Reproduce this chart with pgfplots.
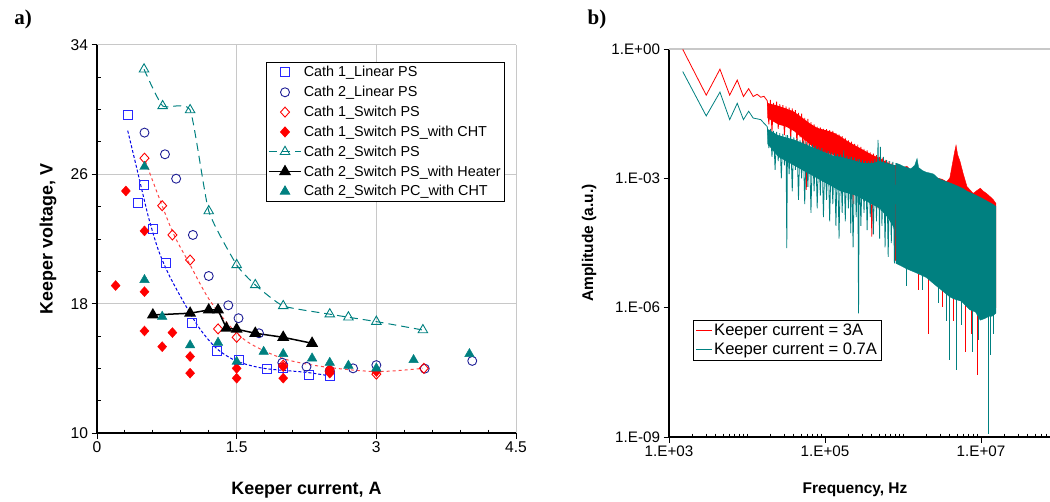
\documentclass[border=0pt]{standalone}
\usepackage{pgfplots}
\pgfplotsset{compat=1.18}
\usepackage{fontspec}
\setmainfont{Liberation Sans}
\newfontfamily\timesfont{Liberation Serif}
\definecolor{bsq}{RGB}{40,40,255}
\definecolor{bline}{RGB}{0,0,230}
\definecolor{navy}{RGB}{30,30,150}
\definecolor{rline}{RGB}{255,70,70}
\definecolor{tealc}{RGB}{0,128,128}
\definecolor{gridc}{RGB}{200,200,200}
\begin{document}
\begin{tikzpicture}
\path[use as bounding box] (0pt,0pt) rectangle (1050pt,-502pt);
\node[font=\timesfont\bfseries\fontsize{21}{24}\selectfont] at (23pt,-19pt) {a)};
\node[font=\timesfont\bfseries\fontsize{21}{24}\selectfont] at (597pt,-19pt) {b)};
% ---------------- left panel
\begin{axis}[
 at={(97pt,-433pt)}, anchor=south west,
 scale only axis, width=419pt, height=388pt,
 xmin=0,xmax=4.5,ymin=10,ymax=34,
 xtick={0,1.5,3,4.5}, xticklabels={0,1.5,3,4.5},
 ytick={10,18,26,34}, yticklabels={10,18,26,34},
 minor x tick num=4, minor y tick num=3,
 axis x line*=bottom, axis y line*=left,
 axis line style={-, line width=1.2pt, black},
 grid=major, major grid style={gridc, line width=1pt},
 tick align=outside, major tick length=5.5pt, minor tick length=-3.5pt,
 tick style={black, line width=1pt},
 /pgf/number format/assume math mode=true,
 ticklabel style={font=\fontsize{15.6}{18}\selectfont},
 xlabel={Keeper current, A}, ylabel={Keeper voltage, V},
 label style={font=\bfseries\fontsize{17.9}{20}\selectfont},
 xlabel style={at={(axis description cs:0.5,-0.147)}, anchor=center},
 ylabel style={at={(axis description cs:-0.117,0.5)}, anchor=center},
 legend cell align=left,
 legend style={at={(0.403,0.956)}, anchor=north west, draw=black, line width=0.8pt, fill=white,
   font=\fontsize{14.4}{17}\selectfont, row sep=3.9pt, inner sep=2pt},
 legend image code/.code={\draw[mark repeat=2,mark phase=2,#1] plot coordinates {(0pt,0pt) (16pt,0pt) (32pt,0pt)};},
]
\addplot[forget plot, bline, densely dashed, line width=1pt, smooth] coordinates {
(0.33,28.7) (0.43,26.3) (0.5,24.6) (0.56,23.2) (0.66,21.3) (0.78,19.7) (0.96,17.8) (1.11,16.4) (1.29,15.2) (1.5,14.45) (1.79,14.0) (2.25,13.75) (2.53,13.5)};
\addplot[forget plot, rline, dashed, line width=1pt, smooth] coordinates {
(0.52,26.8) (0.8,22.6) (1.0,20.4) (1.2,18.3) (1.43,16.6) (1.64,15.55) (2.0,14.6) (2.43,14.1) (3.0,13.8) (3.5,14.0)};
\addplot[only marks, color=bsq, mark=square, mark size=4.5pt, mark options={line width=0.9pt}] coordinates {
(0.33,29.65) (0.50,25.34) (0.44,24.25) (0.60,22.6) (0.74,20.5) (1.02,16.8) (1.29,15.1) (1.52,14.5) (1.82,13.96) (2.0,14.0) (2.28,13.6) (2.5,13.53)};
\addlegendentry{Cath 1\_Linear PS}
\addplot[only marks, color=navy, mark=o, mark size=4.5pt, mark options={line width=0.9pt}] coordinates {
(0.51,28.58) (0.73,27.24) (0.85,25.73) (1.03,22.25) (1.2,19.71) (1.41,17.9) (1.52,17.1) (1.74,16.17) (1.99,14.35) (2.25,14.1) (2.5,13.86) (2.75,14.0) (3.0,14.2) (3.52,13.98) (4.03,14.46)};
\addlegendentry{Cath 2\_Linear PS}
\addplot[only marks, color=red, mark=diamond, mark size=5pt, mark options={line width=0.9pt, xscale=1.2}] coordinates {
(0.51,27.0) (0.70,24.06) (0.81,22.25) (1.0,20.7) (1.3,16.44) (1.5,15.92) (2.0,14.2) (2.5,13.8) (3.0,13.64) (3.51,14.0)};
\addlegendentry{Cath 1\_Switch PS}
\addplot[only marks, color=red, mark=diamond*, mark size=5pt, mark options={fill=red, xscale=1.2}] coordinates {
(0.31,24.97) (0.51,22.5) (0.2,19.12) (0.51,18.74) (0.51,16.31) (0.70,15.34) (0.81,16.21) (1.0,14.73) (1.0,13.7) (1.5,14.0) (1.5,13.39) (2.0,14.1) (2.0,13.39) (2.5,13.95) (2.5,13.7) (3.0,13.8)};
\addlegendentry{Cath 1\_Switch PS\_with CHT}
\addplot[tealc, dash pattern=on 8pt off 5pt, line width=1pt, smooth, tension=0.3, mark=triangle, mark size=5.5pt, mark options={solid, line width=0.9pt}] coordinates {
(0.505,32.5) (0.705,30.23) (1.0,29.98) (1.2,23.73) (1.5,20.4) (1.7,19.16) (2.0,17.86) (2.5,17.35) (2.7,17.16) (3.0,16.89) (3.5,16.37)};
\addlegendentry{Cath 2\_Switch PS}
\addplot[black, line width=1.5pt, mark=triangle*, mark size=5.5pt, mark options={solid}] coordinates {
(0.6,17.3) (1.0,17.41) (1.2,17.61) (1.3,17.61) (1.39,16.48) (1.5,16.42) (1.7,16.17) (2.0,15.92) (2.31,15.55)};
\addlegendentry{Cath 2\_Switch PS\_with Heater}
\addplot[only marks, color=tealc, mark=triangle*, mark size=5.5pt, mark options={fill=tealc}] coordinates {
(0.51,26.47) (0.51,19.47) (0.70,17.2) (1.0,15.43) (1.3,15.59) (1.5,14.41) (1.79,15.03) (2.0,14.89) (2.31,14.62) (2.5,14.35) (2.7,14.17) (3.0,14.0) (3.4,14.52) (4.0,14.89)};
\addlegendentry{Cath 2\_Switch PC\_with CHT}
\end{axis}
% ---------------- right panel
\begin{axis}[
 at={(669pt,-437pt)}, anchor=south west,
 scale only axis, width=390pt, height=388pt,
 xmode=log, ymode=log, xmin=1e3, xmax=1e8, ymin=1e-9, ymax=1,
 xtick={1e3,1e5,1e7}, xticklabels={1.E+03,1.E+05,1.E+07},
 ytick={1e-9,1e-6,1e-3,1}, yticklabels={1.E-09,1.E-06,1.E-03,1.E+00},
 minor xtick={2e3,3e3,4e3,5e3,6e3,7e3,8e3,9e3,1e4,2e4,3e4,4e4,5e4,6e4,7e4,8e4,9e4,2e5,3e5,4e5,5e5,6e5,7e5,8e5,9e5,1e6,2e6,3e6,4e6,5e6,6e6,7e6,8e6,9e6,2e7,3e7,4e7,5e7,6e7,7e7,8e7,9e7},
 minor y tick num=0,
 axis x line*=bottom, axis y line*=left,
 axis line style={-, line width=1.2pt, black},
 extra y ticks={1}, extra y tick labels={},
 extra y tick style={ymajorgrids=true, major tick length=0pt, major grid style={gridc, line width=1.5pt}},
 tick align=outside, major tick length=5.5pt, minor tick length=-3.5pt,
 tick style={black, line width=1pt},
 /pgf/number format/assume math mode=true,
 ticklabel style={font=\fontsize{15.2}{18}\selectfont},
 xlabel={Frequency, Hz}, ylabel={Amplitude (a.u.)},
 label style={font=\bfseries\fontsize{15.5}{18}\selectfont},
 xlabel style={at={(axis description cs:0.477,-0.137)}, anchor=center},
 ylabel style={at={(axis description cs:-0.205,0.5)}, anchor=center},
 unbounded coords=jump,
 legend cell align=left,
 legend style={at={(0.0615,0.302)}, anchor=north west, draw=black, line width=0.8pt, fill=white,
   font=\fontsize{16.6}{19}\selectfont, row sep=2pt, inner sep=2pt},
 legend image code/.code={\draw[#1] (0pt,0pt) -- (16pt,0pt);},
]
% red, keeper current 3A : dense band of the mid range
\addplot[forget plot, fill=red, draw=none] coordinates {
(1.820e4,5.62e-2) (2.512e4,4.79e-2) (3.162e4,4.17e-2) (3.981e4,3.55e-2) (5.012e4,2.63e-2) (6.310e4,1.91e-2) (7.943e4,1.48e-2) (1.0e5,1.32e-2) (1.259e5,1.17e-2) (1.585e5,9.33e-3)
(1.995e5,7.08e-3) (2.512e5,5.62e-3) (3.162e5,4.47e-3) (3.981e5,3.55e-3) (5.012e5,2.95e-3) (6.310e5,2.34e-3) (7.943e5,1.91e-3)
(7.943e5,6.31e-4) (6.310e5,7.08e-4) (5.012e5,8.91e-4) (3.981e5,1.12e-3) (3.162e5,1.41e-3) (2.512e5,1.78e-3) (1.995e5,2.24e-3) (1.585e5,2.82e-3) (1.259e5,3.55e-3) (1.0e5,3.98e-3)
(7.943e4,4.47e-3) (6.310e4,6.31e-3) (5.012e4,8.91e-3) (3.981e4,1.26e-2) (3.162e4,1.58e-2) (2.512e4,1.78e-2) (1.820e4,2.51e-2)} -- cycle;
\addplot[red, line width=0.8pt] coordinates {
(1.5e3,0.98) (3.0e3,8.5e-2) (4.5e3,3.4e-1) (6.0e3,8.5e-2) (7.5e3,1.9e-1) (9.0e3,7.9e-2) (1.05e4,1.2e-1) (1.2e4,7.9e-2) (1.35e4,8.9e-2) (1.5e4,7.6e-2) (1.65e4,8.0e-2)
(1.820e4,6.31e-2) (1.905e4,1.78e-2) (1.995e4,6.61e-2) (2.089e4,1.20e-2) (2.188e4,5.62e-2) (2.291e4,2.51e-2) (2.399e4,6.03e-2) (2.512e4,1.41e-2) (2.630e4,5.25e-2) (2.754e4,2.00e-2)
(2.884e4,5.01e-2) (3.020e4,1.00e-2) (3.162e4,4.68e-2) (3.311e4,1.58e-2) (3.467e4,4.37e-2) (3.631e4,7.94e-3) (3.802e4,4.17e-2) (3.981e4,1.26e-2) (4.169e4,3.80e-2) (4.365e4,6.31e-3)
(4.571e4,3.31e-2) (4.786e4,8.91e-3) (5.012e4,3.16e-2) (5.248e4,2.95e-3) (5.495e4,2.51e-2) (5.754e4,5.37e-4) (6.026e4,2.40e-2) (6.310e4,3.98e-3) (6.607e4,2.00e-2) (6.918e4,2.51e-3)
(7.244e4,1.78e-2) (7.586e4,5.01e-3) (7.943e4,1.58e-2) (8.318e4,2.00e-3) (8.710e4,1.51e-2) (9.120e4,3.16e-3) (9.550e4,1.41e-2) (1.000e5,1.26e-3) (1.047e5,1.38e-2) (1.096e5,2.51e-3)
(1.148e5,1.32e-2) (1.202e5,1.00e-3) (1.259e5,1.26e-2) (1.318e5,2.00e-3) (1.380e5,1.12e-2) (1.445e5,7.94e-4) (1.514e5,1.05e-2) (1.585e5,1.58e-3) (1.660e5,9.55e-3) (1.738e5,5.01e-4)
(1.820e5,8.71e-3) (1.905e5,1.26e-3) (1.995e5,7.59e-3) (2.089e5,6.31e-4) (2.188e5,7.08e-3) (2.291e5,2.51e-4) (2.399e5,6.31e-3) (2.512e5,1.00e-3) (2.630e5,6.03e-3) (2.754e5,3.98e-4)
(2.884e5,5.37e-3) (3.020e5,7.94e-4) (3.162e5,4.79e-3) (3.311e5,3.16e-4) (3.467e5,4.47e-3) (3.631e5,6.31e-4) (3.802e5,3.98e-3) (3.981e5,4.47e-5) (4.169e5,3.72e-3) (4.365e5,3.98e-4)
(4.571e5,3.47e-3) (4.786e5,2.00e-4) (5.012e5,3.16e-3) (5.248e5,5.01e-4) (5.495e5,3.02e-3) (5.754e5,1.58e-4) (6.026e5,2.69e-3) (6.310e5,3.16e-4) (6.607e5,2.51e-3) (6.918e5,1.00e-4)
(7.244e5,2.29e-3) (7.586e5,2.51e-4) (7.943e5,2.00e-3)};
\addlegendentry{Keeper current = 3A}
\addplot[forget plot, fill=red, draw=red, line width=0.4pt] coordinates {
(7.943e5,2.00e-3) (9.120e5,1.86e-3) (1.0e6,1.74e-3) (1.122e6,1.91e-3) (1.259e6,1.51e-3) (1.514e6,1.41e-3) (1.778e6,1.32e-3) (1.995e6,1.17e-3) (2.455e6,1.10e-3) (2.818e6,1.00e-3)
(3.162e6,9.55e-4) (3.631e6,8.32e-4) (3.981e6,1.02e-3) (4.266e6,2.00e-3) (4.571e6,3.98e-3) (4.786e6,5.89e-3) (5.012e6,3.55e-3) (5.370e6,2.51e-3) (5.888e6,1.32e-3) (6.607e6,6.46e-4)
(7.244e6,5.37e-4) (7.943e6,4.47e-4) (8.913e6,5.25e-4) (9.772e6,5.89e-4) (1.072e7,5.01e-4) (1.175e7,4.47e-4) (1.318e7,3.72e-4) (1.445e7,3.16e-4) (1.549e7,2.63e-4)
(1.549e7,1.0e-6) (1.318e7,7.94e-7) (1.122e7,7.08e-7) (9.772e6,6.31e-7) (7.943e6,1.0e-6) (6.607e6,1.26e-6) (5.012e6,1.78e-6) (3.981e6,2.24e-6) (3.162e6,3.16e-6) (2.512e6,4.47e-6)
(1.995e6,6.31e-6) (1.514e6,7.94e-6) (1.122e6,1.0e-5) (7.943e5,1.26e-5)} -- cycle;
\addplot[forget plot, red, line width=0.8pt] coordinates {
(1.585e6,6e-6) (1.585e6,2.51e-6) (1.585e6,nan)
(2.138e6,5e-6) (2.138e6,2.51e-7) (2.138e6,nan)
(3.162e6,3e-6) (3.162e6,1.05e-6) (3.162e6,nan)
(4.467e6,2e-6) (4.467e6,5.01e-7) (4.467e6,nan)
(6.310e6,1.2e-6) (6.310e6,9.55e-8) (6.310e6,nan)
(7.586e6,1e-6) (7.586e6,2.51e-7) (7.586e6,nan)
(8.913e6,8e-7) (8.913e6,2.75e-8) (8.913e6,nan)
(1.259e7,8e-7) (1.259e7,3.16e-7)};
% teal, keeper current 0.7A : dense band of the mid range
\addplot[forget plot, fill=tealc, draw=none] coordinates {
(1.820e4,1.41e-2) (2.512e4,1.0e-2) (3.162e4,8.91e-3) (3.981e4,7.94e-3) (5.012e4,6.76e-3) (6.310e4,5.62e-3) (7.943e4,4.79e-3) (1.0e5,3.98e-3) (1.259e5,3.39e-3) (1.585e5,3.16e-3)
(1.995e5,2.82e-3) (2.512e5,2.51e-3) (3.162e5,2.24e-3) (3.981e5,2.24e-3) (5.012e5,2.51e-3) (6.310e5,2.24e-3) (7.943e5,2.00e-3)
(7.943e5,6.31e-5) (6.310e5,1.26e-4) (5.012e5,2.00e-4) (3.981e5,2.51e-4) (3.162e5,3.16e-4) (2.512e5,3.98e-4) (1.995e5,4.47e-4) (1.585e5,5.01e-4) (1.259e5,6.31e-4) (1.0e5,7.94e-4)
(7.943e4,1.0e-3) (6.310e4,1.26e-3) (5.012e4,1.58e-3) (3.981e4,2.00e-3) (3.162e4,2.51e-3) (2.512e4,3.16e-3) (1.820e4,6.31e-3)} -- cycle;
\addplot[tealc, line width=0.8pt] coordinates {
(1.5e3,3.0e-1) (3.0e3,2.8e-2) (4.5e3,1.0e-1) (6.0e3,2.3e-2) (7.5e3,5.5e-2) (9.0e3,2.3e-2) (1.05e4,3.6e-2) (1.2e4,2.5e-2) (1.35e4,2.4e-2) (1.5e4,2.3e-2) (1.65e4,1.9e-2)
(1.820e4,1.58e-2) (1.905e4,5.01e-3) (1.995e4,1.41e-2) (2.089e4,3.16e-3) (2.188e4,1.26e-2) (2.291e4,1.58e-3) (2.399e4,1.20e-2) (2.512e4,2.51e-3) (2.630e4,1.12e-2) (2.754e4,1.00e-3)
(2.884e4,1.07e-2) (3.020e4,2.00e-3) (3.162e4,1.00e-2) (3.236e4,2.40e-5) (3.311e4,1.00e-2) (3.467e4,1.26e-3) (3.631e4,9.55e-3) (3.802e4,5.01e-4) (3.981e4,8.91e-3) (4.169e4,1.58e-3)
(4.365e4,8.32e-3) (4.571e4,3.16e-4) (4.786e4,7.76e-3) (5.012e4,1.00e-3) (5.248e4,7.41e-3) (5.495e4,2.51e-4) (5.754e4,6.92e-3) (6.026e4,6.31e-4) (6.310e4,6.31e-3) (6.607e4,1.58e-4)
(6.918e4,6.03e-3) (7.244e4,5.01e-4) (7.586e4,5.62e-3) (7.943e4,2.00e-4) (8.318e4,5.25e-3) (8.710e4,3.98e-4) (9.120e4,5.01e-3) (9.550e4,1.26e-4) (1.000e5,4.47e-3) (1.047e5,3.16e-4)
(1.096e5,4.27e-3) (1.148e5,1.00e-4) (1.202e5,3.98e-3) (1.259e5,2.51e-4) (1.318e5,3.80e-3) (1.380e5,7.94e-5) (1.445e5,3.63e-3) (1.514e5,3.98e-5) (1.585e5,3.55e-3) (1.660e5,1.58e-4)
(1.738e5,4.47e-3) (1.820e5,1.00e-4) (1.905e5,3.31e-3) (1.995e5,2.00e-4) (2.089e5,3.16e-3) (2.138e5,5.37e-5) (2.188e5,3.16e-3) (2.291e5,2.51e-5) (2.399e5,3.02e-3) (2.512e5,1.26e-4)
(2.630e5,2.82e-3) (2.692e5,7.41e-7) (2.754e5,2.82e-3) (2.884e5,7.94e-5) (3.020e5,2.69e-3) (3.162e5,1.58e-4) (3.311e5,2.51e-3) (3.467e5,6.31e-5) (3.631e5,2.51e-3) (3.802e5,1.26e-4)
(3.981e5,2.51e-3) (4.169e5,5.01e-5) (4.365e5,2.82e-3) (4.571e5,1.00e-4) (4.786e5,7.76e-3) (5.012e5,3.98e-5) (5.129e5,5.37e-3) (5.370e5,7.94e-5) (5.623e5,3.16e-3) (5.888e5,2.51e-5)
(6.166e5,2.63e-3) (6.457e5,1.51e-5) (6.761e5,2.51e-3) (7.079e5,3.16e-5) (7.413e5,2.40e-3) (7.762e5,1.07e-5) (8.128e5,2.24e-3)};
\addlegendentry{Keeper current = 0.7A}
\addplot[forget plot, fill=tealc, draw=tealc, line width=0.4pt] coordinates {
(8.128e5,2.24e-3) (9.120e5,2.09e-3) (1.0e6,1.91e-3) (1.122e6,1.78e-3) (1.259e6,1.66e-3) (1.413e6,2.00e-3) (1.514e6,2.88e-3) (1.585e6,1.78e-3) (1.778e6,1.51e-3) (1.995e6,1.38e-3)
(2.239e6,1.32e-3) (2.455e6,1.26e-3) (2.818e6,1.00e-3) (3.162e6,9.12e-4) (3.631e6,8.32e-4) (4.169e6,7.59e-4) (5.012e6,6.61e-4) (5.888e6,5.75e-4) (6.607e6,5.01e-4) (7.244e6,4.68e-4)
(8.318e6,4.17e-4) (1.0e7,3.55e-4) (1.122e7,3.16e-4) (1.259e7,2.82e-4) (1.413e7,2.51e-4) (1.549e7,2.24e-4)
(1.549e7,7.41e-7) (1.380e7,6.31e-7) (1.259e7,6.31e-7) (1.122e7,5.62e-7) (9.772e6,5.13e-7) (8.511e6,7.94e-7) (7.244e6,8.91e-7) (6.607e6,1.05e-6) (5.623e6,1.41e-6) (4.571e6,1.58e-6)
(3.981e6,1.78e-6) (3.162e6,2.51e-6) (2.455e6,3.63e-6) (1.995e6,5.01e-6) (1.514e6,6.31e-6) (1.122e6,7.94e-6) (8.128e5,1.07e-5)} -- cycle;
\addplot[forget plot, tealc, line width=0.8pt] coordinates {
(1.096e6,9e-6) (1.096e6,3.16e-6) (1.096e6,nan)
(1.778e6,6e-6) (1.778e6,2.51e-6) (1.778e6,nan)
(2.818e6,4e-6) (2.818e6,1.26e-6) (2.818e6,nan)
(3.548e6,3e-6) (3.548e6,5.01e-7) (3.548e6,nan)
(3.981e6,3e-6) (3.981e6,6.03e-8) (3.981e6,nan)
(4.898e6,2e-6) (4.898e6,3.55e-8) (4.898e6,nan)
(5.623e6,2e-6) (5.623e6,3.98e-7) (5.623e6,nan)
(7.762e6,1.5e-6) (7.762e6,9.55e-8) (7.762e6,nan)
(9.333e6,1e-6) (9.333e6,1.78e-7) (9.333e6,nan)
(1.230e7,1e-6) (1.230e7,1.20e-9) (1.230e7,nan)
(1.318e7,1e-6) (1.318e7,7.94e-8) (1.318e7,nan)
(1.445e7,1e-6) (1.445e7,2.51e-7)};
\end{axis}
\end{tikzpicture}
\end{document}
